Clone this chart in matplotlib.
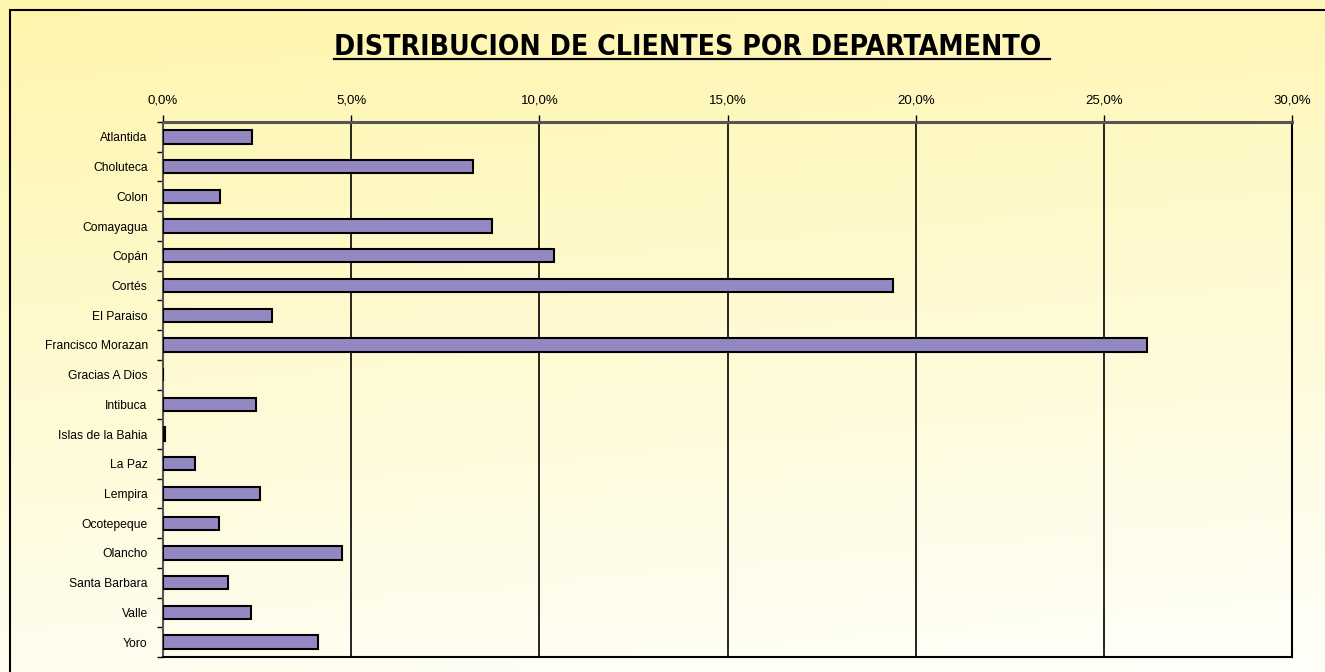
import numpy as np
import matplotlib.pyplot as plt
from matplotlib.lines import Line2D
from matplotlib.patches import Rectangle
from matplotlib.ticker import FuncFormatter, FixedLocator

# Data (share of clients per department, %)
departments = ["Atlantida", "Choluteca", "Colon", "Comayagua", "Copán", "Cortés",
               "El Paraiso", "Francisco Morazan", "Gracias A Dios", "Intibuca",
               "Islas de la Bahia", "La Paz", "Lempira", "Ocotepeque", "Olancho",
               "Santa Barbara", "Valle", "Yoro"]
shares = [2.36, 8.24, 1.52, 8.75, 10.38, 19.40, 2.90, 26.16, 0.0, 2.48,
          0.05, 0.86, 2.57, 1.49, 4.75, 1.72, 2.33, 4.11]
x_ticks = [0, 5, 10, 15, 20, 25, 30]

TITLE = "DISTRIBUCION DE CLIENTES POR DEPARTAMENTO "
BAR_COLOR = "#9488C2"
FONT = "Liberation Sans"

W, H = 1325, 672
fig = plt.figure(figsize=(W / 100, H / 100), dpi=100)

# background gradient (yellow at top fading to near white)
bg = fig.add_axes([0, 0, 1, 1], zorder=0)
top = np.array([254, 245, 172]) / 255
bottom = np.array([255, 255, 250]) / 255
yy, xx = np.mgrid[0:1:200j, 0:1:200j]
t = np.clip(yy * 0.85 + xx * 0.15, 0, 1)[..., None]
grad = top * (1 - t) + bottom * t
bg.imshow(grad, aspect="auto", extent=[0, 1, 0, 1], origin="upper")
bg.set_xlim(0, 1)
bg.set_ylim(0, 1)
bg.axis("off")
bg.add_patch(Rectangle((10 / W, -0.1), 1.2, 1 - 10 / H + 0.1, fill=False,
                       edgecolor="black", linewidth=1.5, transform=bg.transAxes))

# main chart
left, right = 163 / W, 1292 / W
ax_top, ax_bot = 1 - 122 / H, 1 - 657 / H
ax = fig.add_axes([left, ax_bot, right - left, ax_top - ax_bot], zorder=1)
ax.patch.set_alpha(0)

y = np.arange(len(departments))
ax.barh(y, shares, height=0.45, color=BAR_COLOR, edgecolor="black",
        linewidth=1.5, zorder=3)
ax.set_ylim(len(departments) - 0.5, -0.5)
ax.set_xlim(0, 30)

for xv in x_ticks[1:-1]:
    ax.axvline(xv, color="black", linewidth=1.2, zorder=2)

ax.xaxis.tick_top()
ax.set_xticks(x_ticks)
ax.xaxis.set_major_formatter(FuncFormatter(lambda v, p: f"{v:.1f}%".replace(".", ",")))
ax.tick_params(axis="x", direction="out", length=5, width=1, pad=6,
               labelsize=9.5, color="black")

ax.set_yticks(y)
ax.set_yticklabels(departments)
ax.yaxis.set_minor_locator(FixedLocator(np.arange(-0.5, len(departments), 1)))
ax.tick_params(axis="y", which="major", length=0, pad=11, labelsize=8.7)
ax.tick_params(axis="y", which="minor", direction="out", length=4, width=1,
               color="black")

for lab in ax.get_xticklabels() + ax.get_yticklabels():
    lab.set_fontfamily(FONT)

ax.spines["top"].set_color("#555555")
ax.spines["top"].set_linewidth(2.2)
ax.spines["left"].set_color("#555555")
ax.spines["left"].set_linewidth(1.5)
ax.spines["right"].set_linewidth(1.5)
ax.spines["bottom"].set_linewidth(1.5)

# title with underline
title = fig.text(692 / W, 1 - 47 / H, TITLE, ha="center", va="center",
                 fontsize=20.3, fontweight="bold", family="DejaVu Sans",
                 fontstretch="condensed")
fig.canvas.draw()
bb = title.get_window_extent().transformed(fig.transFigure.inverted())
fig.add_artist(Line2D([bb.x0, bb.x1], [bb.y0 + 0.003, bb.y0 + 0.003],
                      transform=fig.transFigure, color="black", linewidth=1.6))

fig.savefig("out.png", dpi=100)
